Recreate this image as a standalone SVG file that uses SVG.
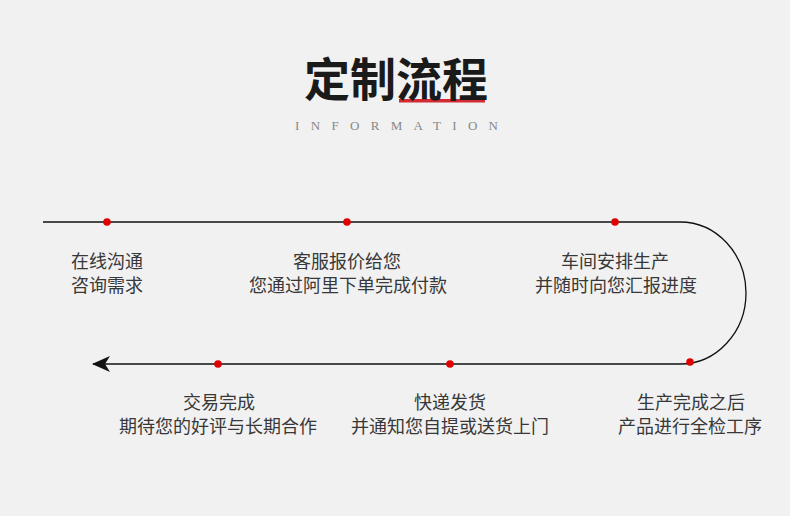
<svg xmlns="http://www.w3.org/2000/svg" width="790" height="516" viewBox="0 0 790 516">
<defs>
<style>
.lbl{font-family:"Noto Sans CJK SC","Noto Sans",sans-serif;font-size:18px;fill:#383838;text-anchor:middle}
.dot{fill:#e00000}
.ln{fill:none;stroke:#111;stroke-width:1.3}
</style>
<marker id="arr" viewBox="0 0 18 16" refX="17" refY="8" markerWidth="18" markerHeight="16" markerUnits="userSpaceOnUse" orient="auto">
<path d="M18,8 L0,0 L5,8 L0,16 Z" fill="#111"/>
</marker>
</defs>
<rect width="790" height="516" fill="#f1f1f1"/>
<g id="title">
<rect x="399" y="99" width="86" height="3.5" fill="#d42a32"/>
<text x="396" y="96" style="font-family:'Noto Sans CJK SC',sans-serif;font-weight:700;font-size:46px;fill:#1a1a1a;text-anchor:middle">定制流程</text>
<text x="295" y="130" textLength="203" lengthAdjust="spacing" style="font-family:'Liberation Serif',serif;font-size:13px;fill:#888">INFORMATION</text>
</g>
<g id="connectors">
<path class="ln" d="M43,222 L680,222 A66,71 0 0 1 680,364 L93,364" marker-end="url(#arr)"/>
</g>
<g id="n1"><circle class="dot" cx="107" cy="222" r="3.8"/><text class="lbl" x="107" y="268">在线沟通</text><text class="lbl" x="107" y="292">咨询需求</text></g>
<g id="n2"><circle class="dot" cx="347" cy="222" r="3.8"/><text class="lbl" x="347" y="268">客服报价给您</text><text class="lbl" x="348" y="292">您通过阿里下单完成付款</text></g>
<g id="n3"><circle class="dot" cx="615" cy="222" r="3.8"/><text class="lbl" x="615" y="268">车间安排生产</text><text class="lbl" x="616" y="292">并随时向您汇报进度</text></g>
<g id="n4"><circle class="dot" cx="690" cy="362" r="3.8"/><text class="lbl" x="691" y="409">生产完成之后</text><text class="lbl" x="690" y="433">产品进行全检工序</text></g>
<g id="n5"><circle class="dot" cx="450" cy="364" r="3.8"/><text class="lbl" x="450" y="409">快递发货</text><text class="lbl" x="450" y="433">并通知您自提或送货上门</text></g>
<g id="n6"><circle class="dot" cx="218" cy="364" r="3.8"/><text class="lbl" x="219" y="409">交易完成</text><text class="lbl" x="218" y="433">期待您的好评与长期合作</text></g>
</svg>
